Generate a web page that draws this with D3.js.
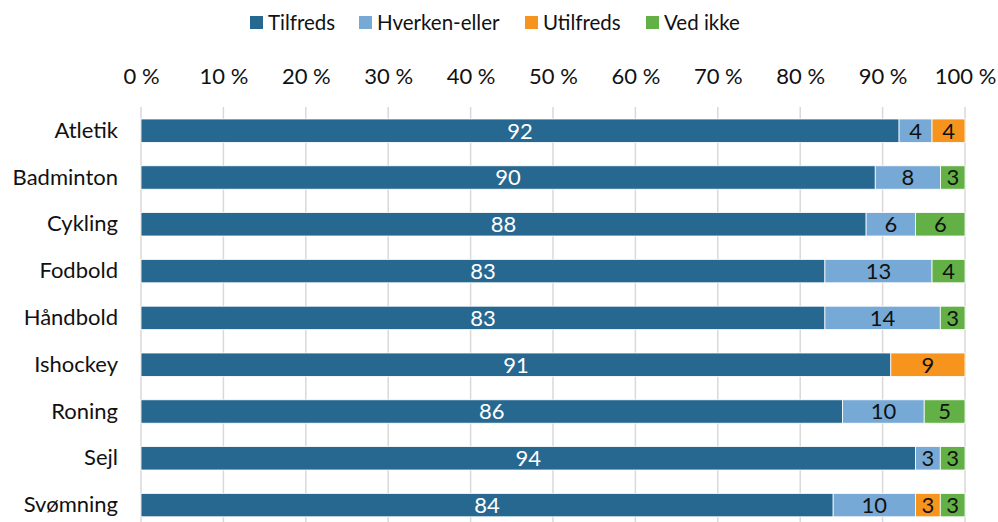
<!DOCTYPE html>
<html>
<head>
<meta charset="utf-8">
<script src="https://cdn.jsdelivr.net/npm/d3@7"></script>
<style>
  html, body { margin: 0; padding: 0; background: #fff; }
  svg text { font-family: Lato, "Noto Sans", sans-serif; }
</style>
</head>
<body>
<svg id="chart" width="998" height="522"></svg>
<script>
// Satisfaction by sport, shares in percent (100% stacked)
const categories = ["Atletik", "Badminton", "Cykling", "Fodbold", "Håndbold", "Ishockey", "Roning", "Sejl", "Svømning"];
const seriesNames = ["Tilfreds", "Hverken-eller", "Utilfreds", "Ved ikke"];
const tilfreds     = [92, 90, 88, 83, 83, 91, 86, 94, 84];
const hverkenEller = [4, 8, 6, 13, 14, 0, 10, 3, 10];
const utilfreds    = [4, 0, 0, 0, 0, 9, 0, 0, 3];
const vedIkke      = [0, 3, 6, 4, 3, 0, 5, 3, 3];
const tickValues   = [0, 0.1, 0.2, 0.3, 0.4, 0.5, 0.6, 0.7, 0.8, 0.9, 1.0];

const colors = ["#276891", "#77a9d7", "#f7941e", "#63b146"];
const labelColors = ["#ffffff", "#111111", "#111111", "#111111"];

const seriesValues = [tilfreds, hverkenEller, utilfreds, vedIkke];
const rows = categories.map((c, i) => {
  const r = { category: c };
  seriesNames.forEach((s, j) => { r[s] = seriesValues[j][i]; });
  return r;
});

const svg = d3.select("#chart");

const x = d3.scaleLinear().domain([0, 1]).range([141, 965]);
const y = d3.scaleBand().domain(categories).range([107.3, 528.5])
  .paddingInner(0.5).paddingOuter(0.25);

const stack = d3.stack().keys(seriesNames).offset(d3.stackOffsetExpand);
const layers = stack(rows);

// Gridlines
svg.append("g")
  .selectAll("line")
  .data(tickValues)
  .join("line")
  .attr("x1", d => x(d)).attr("x2", d => x(d))
  .attr("y1", 107).attr("y2", 522)
  .attr("stroke", "#d9d9d9")
  .attr("stroke-width", 1.5);

// Top axis labels
const xAxis = d3.axisTop(x).tickValues(tickValues)
  .tickFormat(d => Math.round(d * 100) + " %").tickSize(0).tickPadding(0);
const gx = svg.append("g").attr("transform", "translate(0,84)").call(xAxis);
gx.select(".domain").remove();
gx.selectAll("text").attr("font-size", 22).attr("fill", "#111")
  .attr("font-family", "Lato, 'Noto Sans', sans-serif");

// Category axis labels
const yAxis = d3.axisLeft(y).tickSize(0).tickPadding(23);
const gy = svg.append("g").attr("transform", `translate(${x(0)},0)`).call(yAxis);
gy.select(".domain").remove();
gy.selectAll("text").attr("font-size", 22).attr("fill", "#111")
  .attr("font-family", "Lato, 'Noto Sans', sans-serif");

// Bars
const layerG = svg.append("g")
  .selectAll("g")
  .data(layers)
  .join("g")
  .attr("fill", (d, i) => colors[i]);

layerG.selectAll("rect")
  .data(d => d.filter(s => s[1] - s[0] > 0))
  .join("rect")
  .attr("x", d => x(d[0]))
  .attr("y", d => y(d.data.category))
  .attr("width", d => x(d[1]) - x(d[0]))
  .attr("height", y.bandwidth())
  .attr("stroke", "#ffffff")
  .attr("stroke-width", 0.8);

// Value labels
layers.forEach((layer, i) => {
  svg.append("g")
    .selectAll("text")
    .data(layer.filter(s => s[1] - s[0] > 0))
    .join("text")
    .attr("x", d => (x(d[0]) + x(d[1])) / 2)
    .attr("y", d => y(d.data.category) + y.bandwidth() / 2)
    .attr("dy", "0.36em")
    .attr("text-anchor", "middle")
    .attr("font-size", 22)
    .attr("fill", labelColors[i])
    .text(d => d.data[layer.key]);
});

// Legend
const legendX = [250, 359, 525, 646];
const legend = svg.append("g")
  .selectAll("g")
  .data(seriesNames)
  .join("g")
  .attr("transform", (d, i) => `translate(${legendX[i]},16)`);
legend.append("rect")
  .attr("width", 13).attr("height", 13)
  .attr("fill", (d, i) => colors[i]);
legend.append("text")
  .attr("x", 18).attr("y", 6.5).attr("dy", "0.36em")
  .attr("font-size", 20.5).attr("fill", "#111")
  .text(d => d);
</script>
</body>
</html>
